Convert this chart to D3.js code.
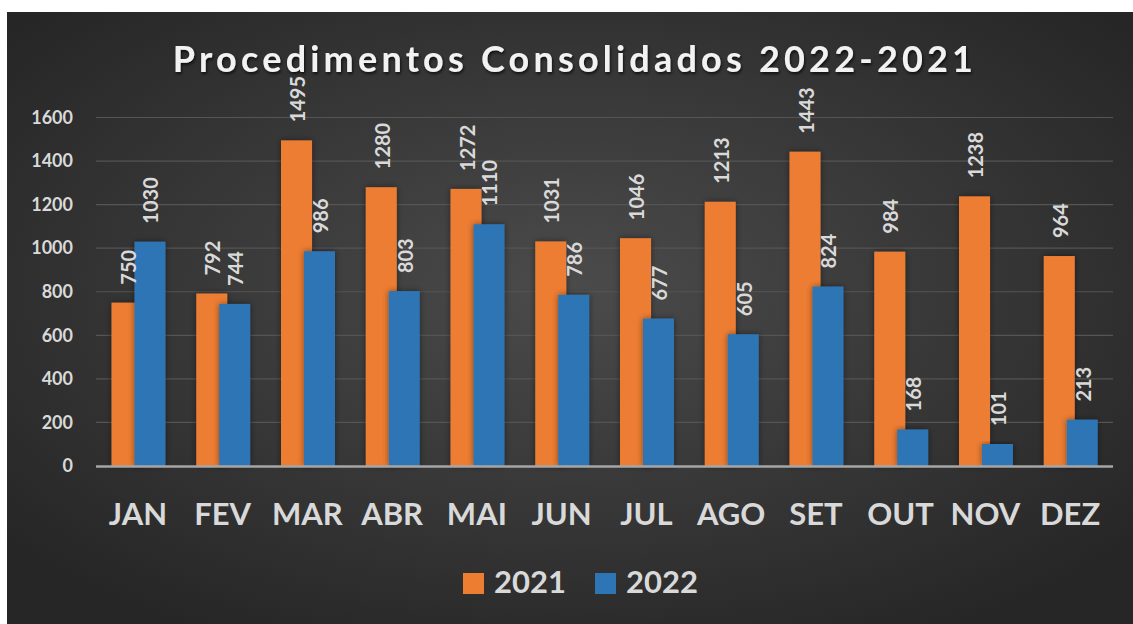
<!DOCTYPE html>
<html>
<head>
<meta charset="utf-8">
<script src="https://d3js.org/d3.v7.min.js"></script>
<style>
  body { margin: 0; background: #ffffff; }
  svg { display: block; font-family: Lato, "Open Sans", sans-serif; }
</style>
</head>
<body>
<svg width="1133" height="624"></svg>
<script>
const months = ["JAN", "FEV", "MAR", "ABR", "MAI", "JUN", "JUL", "AGO", "SET", "OUT", "NOV", "DEZ"];
const values2021 = [750, 792, 1495, 1280, 1272, 1031, 1046, 1213, 1443, 984, 1238, 964];
const values2022 = [1030, 744, 986, 803, 1110, 786, 677, 605, 824, 168, 101, 213];
const yTicks = [0, 200, 400, 600, 800, 1000, 1200, 1400, 1600];
const seriesNames = ["2021", "2022"];
const seriesColors = ["#ed7d31", "#2e75b6"];

const svg = d3.select("svg"),
  width = +svg.attr("width"),
  height = +svg.attr("height");

// background panel with radial shading
const defs = svg.append("defs");
const grad = defs.append("radialGradient")
  .attr("id", "bg")
  .attr("cx", "50%").attr("cy", "45%").attr("r", "65%");
grad.append("stop").attr("offset", "0%").attr("stop-color", "#4b4b4b");
grad.append("stop").attr("offset", "100%").attr("stop-color", "#262626");

const shadow = defs.append("filter").attr("id", "shadow")
  .attr("x", "-5%").attr("y", "-20%").attr("width", "110%").attr("height", "150%");
shadow.append("feDropShadow")
  .attr("dx", 1).attr("dy", 2).attr("stdDeviation", 1.5)
  .attr("flood-color", "#000").attr("flood-opacity", 0.7);

const barShadow = defs.append("filter").attr("id", "barShadow")
  .attr("x", "-30%").attr("y", "-10%").attr("width", "160%").attr("height", "120%");
barShadow.append("feDropShadow")
  .attr("dx", 0).attr("dy", 0).attr("stdDeviation", 3)
  .attr("flood-color", "#000").attr("flood-opacity", 0.45);

svg.append("rect")
  .attr("x", 7).attr("y", 12)
  .attr("width", width - 7).attr("height", height - 12)
  .attr("fill", "url(#bg)");

// title
svg.append("text")
  .attr("x", 575)
  .attr("y", 72)
  .attr("text-anchor", "middle")
  .attr("fill", "#f2f2f2")
  .attr("filter", "url(#shadow)")
  .style("font-size", "36px")
  .style("font-weight", "bold")
  .style("letter-spacing", "4.2px")
  .text("Procedimentos Consolidados 2022-2021");

const plotLeft = 96, plotRight = 1113;
const x = d3.scaleBand().domain(months).range([plotLeft, plotRight]);
const y = d3.scaleLinear().domain([0, 1600]).range([466, 117.5]);

// bar geometry within a band
const barW = x.bandwidth() * 0.366;
const offset = [x.bandwidth() * 0.183, x.bandwidth() * 0.183 + barW * 0.74];

// gridlines
svg.append("g")
  .selectAll("line")
  .data(yTicks.filter(d => d > 0))
  .enter().append("line")
  .attr("x1", plotLeft).attr("x2", plotRight)
  .attr("y1", d => y(d)).attr("y2", d => y(d))
  .attr("stroke", "#555555")
  .attr("stroke-width", 1.2);

// y axis
const yAxis = svg.append("g")
  .attr("transform", "translate(" + (plotLeft - 16) + ",0)")
  .call(d3.axisLeft(y).tickValues(yTicks).tickSize(0).tickPadding(7).tickFormat(d3.format("d")));
yAxis.select(".domain").remove();
yAxis.selectAll("text")
  .attr("fill", "#d9d9d9")
  .style("font-size", "18px")
  .style("font-weight", "bold")
  .style("font-family", "Lato, sans-serif");

const series = [values2021, values2022];

series.forEach((vals, si) => {
  svg.append("g")
    .selectAll("rect")
    .data(vals)
    .enter().append("rect")
    .attr("x", (d, i) => x(months[i]) + offset[si])
    .attr("y", d => y(d))
    .attr("width", barW)
    .attr("height", d => y(0) - y(d))
    .attr("fill", seriesColors[si])
    .attr("filter", "url(#barShadow)");
});

// baseline
svg.append("line")
  .attr("x1", plotLeft).attr("x2", plotRight)
  .attr("y1", y(0) + 0.5).attr("y2", y(0) + 0.5)
  .attr("stroke", "#a6a6a6")
  .attr("stroke-width", 2.5);

// value labels
series.forEach((vals, si) => {
  svg.append("g")
    .selectAll("text")
    .data(vals)
    .enter().append("text")
    .attr("transform", (d, i) => {
      const cx = x(months[i]) + offset[si] + barW / 2 + 8.5;
      return "translate(" + cx + "," + (y(d) - 18) + ") rotate(-90)";
    })
    .attr("text-anchor", "start")
    .attr("fill", "#d9d9d9")
    .style("font-size", "20px")
    .style("font-weight", "bold")
    .text(d => d);
});

// x labels
svg.append("g")
  .selectAll("text")
  .data(months)
  .enter().append("text")
  .attr("x", d => x(d) + x.bandwidth() / 2 - 0.5)
  .attr("y", 525)
  .attr("text-anchor", "middle")
  .attr("fill", "#d9d9d9")
  .style("font-size", "31px")
  .style("font-weight", "bold")
  .text(d => d);

// legend
const legend = svg.append("g");
const legendX = [463, 595];
seriesNames.forEach((name, i) => {
  legend.append("rect")
    .attr("x", legendX[i]).attr("y", 573)
    .attr("width", 21).attr("height", 21)
    .attr("fill", seriesColors[i]);
  legend.append("text")
    .attr("x", legendX[i] + 31).attr("y", 593)
    .attr("fill", "#d9d9d9")
    .style("font-size", "31px")
    .style("font-weight", "bold")
    .text(name);
});
</script>
</body>
</html>
